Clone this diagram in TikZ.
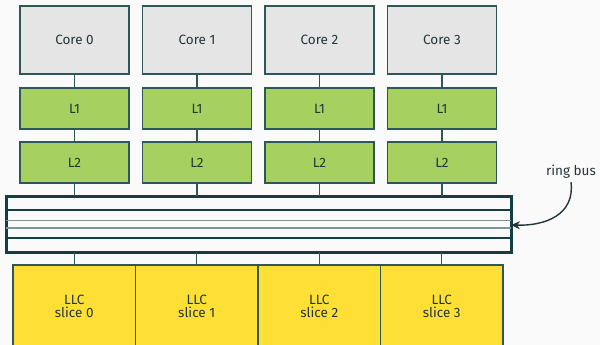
\documentclass[tikz,border=0pt]{standalone}
\usepackage{fontspec}
\setmainfont{Fira Sans}
\usetikzlibrary{arrows.meta}
\definecolor{bg}{HTML}{FAFAFA}
\definecolor{mteal}{HTML}{23373B}
\definecolor{edge}{HTML}{2E5757}
\definecolor{ringc}{HTML}{123F3F}
\definecolor{gline}{HTML}{7A9696}
\definecolor{corefill}{HTML}{E5E5E5}
\definecolor{cachefill}{HTML}{A6D160}
\definecolor{llcfill}{HTML}{FDDF36}
\tikzset{
  lbl/.style={text=mteal, font=\fontsize{13.5}{15}\selectfont, align=center},
  box/.style={lbl, draw=edge, line width=1.2pt, inner sep=0pt, outer sep=0pt, anchor=north west},
  corebox/.style={box, fill=corefill, minimum width=109pt, minimum height=68pt},
  cachebox/.style={box, fill=cachefill, minimum width=109pt, minimum height=41pt},
  llcbox/.style={box, fill=llcfill, minimum width=122.5pt, minimum height=110pt},
  wire/.style={draw=edge, line width=1.2pt},
  ringbox/.style={draw=ringc, line width=3pt, inner sep=0pt, outer sep=0pt, anchor=north west, minimum width=505pt, minimum height=56pt},
}
\begin{document}
\begin{tikzpicture}[x=1pt,y=-1pt]
\useasboundingbox (0,0) rectangle (600,345);
\fill[bg] (0,0) rectangle (600,345);
\clip (0,0) rectangle (600,345);
% ring bus
\node[ringbox] (ring) at (6,196) {};
\draw[ringc, line width=1.7pt] (ring.west |- 0,210) -- (ring.east |- 0,210);
\draw[gline, line width=1.7pt] (ring.west |- 0,220.5) -- (ring.east |- 0,220.5);
\draw[gline, line width=1.7pt] (ring.west |- 0,228) -- (ring.east |- 0,228);
\draw[ringc, line width=1.7pt] (ring.west |- 0,238) -- (ring.east |- 0,238);
\foreach \i in {0,1,2,3} {
  \node[corebox] (core\i) at (20+122.5*\i,6) {Core \i};
  \node[cachebox] (lone\i) at (20+122.5*\i,88) {L1};
  \node[cachebox] (ltwo\i) at (20+122.5*\i,142) {L2};
  \node[llcbox] (llc\i) at (13+122.5*\i,265) {};
  \node[lbl] (llct\i) at (74.25+122.5*\i,306) {LLC\\[-2pt]slice \i};
  \draw[wire] (core\i.south) -- (lone\i.north);
  \draw[wire] (lone\i.south) -- (ltwo\i.north);
  \draw[wire] (ltwo\i.south) -- (ltwo\i.south |- ring.north);
  \draw[wire] (llc\i.north) -- (llc\i.north |- ring.south);
}
\node[lbl] (rb) at (571,172) {ring bus};
\draw[mteal, line width=1.4pt, -{Stealth[length=9pt,width=8pt]}] (rb.south) .. controls (575,215) and (545,226) .. (ring.east |- 0,225);
\end{tikzpicture}
\end{document}
